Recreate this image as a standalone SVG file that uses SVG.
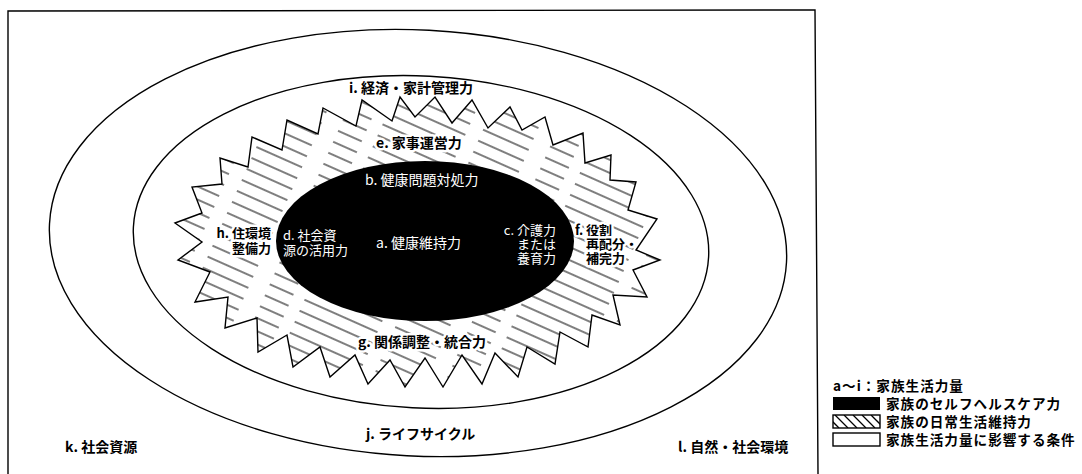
<svg xmlns="http://www.w3.org/2000/svg" width="1082" height="474" viewBox="0 0 1082 474">
<style>
.ln{fill:none;stroke:#000;stroke-width:1.4}
.t{font-family:"Noto Sans CJK JP","Noto Sans CJK SC",sans-serif;font-size:13px;fill:#000}
.b{font-weight:700}
.w{fill:#fff}
.halo{stroke:#fff;stroke-width:5;stroke-linejoin:round;paint-order:stroke}
.big{font-size:14px}
.lg{font-size:13.6px;letter-spacing:1px}
</style>
<defs>
<pattern id="hatch" patternUnits="userSpaceOnUse" width="200" height="12" patternTransform="rotate(24)">
<rect width="200" height="12" fill="#fff"/>
<line x1="0" y1="6" x2="200" y2="6" stroke="#000" stroke-width="1.2" stroke-dasharray="80 14 50 18 26 12"/>
</pattern>
<clipPath id="lgclip"><rect x="833" y="415" width="47" height="13"/></clipPath>
</defs>
<rect width="1082" height="474" fill="#fff"/>
<g id="frame"><path class="ln" d="M8,474 L8,11 L815,10 L818,474"/></g>
<g id="k-social-resources">
<ellipse class="ln" cx="418" cy="243" rx="369" ry="213" transform="rotate(3 418 243)"/>
<text class="t b big" x="65" y="452">k. 社会資源</text>
<text class="t b big" x="678" y="452">l. 自然・社会環境</text>
</g>
<g id="j-lifecycle">
<ellipse class="ln" cx="421" cy="242" rx="288" ry="166" transform="rotate(3 421 242)"/>
<text class="t b big" x="366" y="439">j. ライフサイクル</text>
<text class="t b big" x="349" y="93">i. 経済・家計管理力</text>
</g>
<g id="daily-life-maintenance">
<polygon fill="url(#hatch)" stroke="#000" stroke-width="1.4" stroke-linejoin="miter" points="175,223 202,213 192,187 222,184 220,158 248,167 252,137 282,150 287,120 318,134 323,108 356,126 362,100 392,121 400,97 415,117 435,97 452,123 472,100 488,128 510,107 522,130 545,117 553,145 583,133 585,163 611,155 610,180 636,182 628,210 657,219 636,250 660,260 633,270 647,297 613,295 620,325 592,315 588,347 560,332 555,364 527,347 518,377 495,353 482,384 462,355 443,387 425,358 405,387 390,360 368,384 355,355 330,377 320,347 293,367 287,335 258,352 257,318 225,328 228,297 195,302 210,272 178,260 202,242"/>
<text class="t b big halo" x="376" y="148">e. 家事運営力</text>
<text class="t b big halo" x="358" y="347">g. 関係調整・統合力</text>
<text class="t b halo" text-anchor="end"><tspan x="271" y="238">h. 住環境</tspan><tspan x="271" y="253">整備力</tspan></text>
<text class="t b halo"><tspan x="575" y="235">f. 役割</tspan><tspan x="586" y="249">再配分・</tspan><tspan x="586" y="263">補完力</tspan></text>
</g>
<g id="self-health-care">
<ellipse cx="425" cy="241" rx="149" ry="80" fill="#000"/>
<text class="t w big" x="365" y="185">b. 健康問題対処力</text>
<text class="t w big" x="376" y="248">a. 健康維持力</text>
<text class="t w"><tspan x="283" y="240">d. 社会資</tspan><tspan x="283" y="255">源の活用力</tspan></text>
<text class="t w" text-anchor="end"><tspan x="556" y="235">c. 介護力</tspan><tspan x="556" y="249">または</tspan><tspan x="556" y="263">養育力</tspan></text>
</g>
<g id="legend">
<text class="t b lg" x="833" y="391">a～i：家族生活力量</text>
<rect x="833" y="397" width="47" height="13" fill="#000"/>
<rect x="833" y="415" width="47" height="13" fill="#fff"/>
<g clip-path="url(#lgclip)" stroke="#000" stroke-width="1.3">
<line x1="826" y1="415" x2="839" y2="428"/>
<line x1="835" y1="415" x2="848" y2="428"/>
<line x1="844" y1="415" x2="857" y2="428"/>
<line x1="853" y1="415" x2="866" y2="428"/>
<line x1="862" y1="415" x2="875" y2="428"/>
<line x1="871" y1="415" x2="884" y2="428"/>
</g>
<rect x="833" y="415" width="47" height="13" class="ln"/>
<rect x="833" y="433" width="47" height="13" class="ln"/>
<text class="t b lg" x="886" y="409">家族のセルフヘルスケア力</text>
<text class="t b lg" x="886" y="427">家族の日常生活維持力</text>
<text class="t b lg" x="886" y="445">家族生活力量に影響する条件</text>
</g>
<g id="connectors"/>
</svg>
